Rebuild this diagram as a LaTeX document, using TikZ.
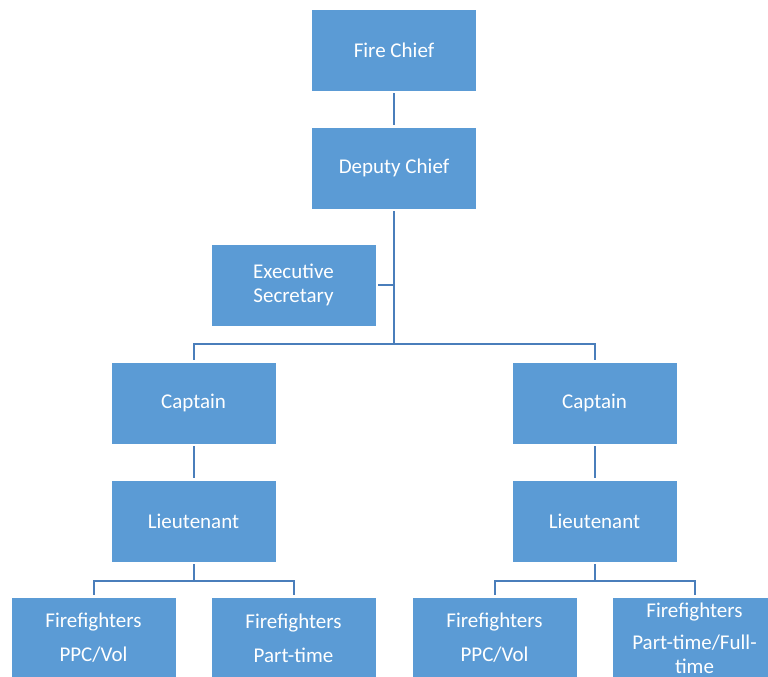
\documentclass[tikz,border=0pt]{standalone}
\usepackage{fontspec}
\setmainfont{Carlito}
\usepackage{tikz}
\usetikzlibrary{positioning}
\definecolor{boxblue}{HTML}{5B9BD5}
\definecolor{linkblue}{HTML}{4A7EBB}
\tikzset{
  unit box/.style={draw=boxblue,fill=boxblue,text=white,minimum width=122.25pt,minimum height=60pt,
    inner sep=1pt,align=center,font=\fontsize{15.75}{18}\selectfont},
  link/.style={draw=linkblue,line width=1.5pt,shorten >=2.25pt,shorten <=2.25pt}
}
\begin{document}
\begin{tikzpicture}[x=0.75pt,y=-0.75pt]
  \path[use as bounding box] (0,0) rectangle (768,677);
  \clip (0,0) rectangle (768,677);
  % chain of command
  \node[unit box] (chief) at (394,50) {Fire Chief};
  \node[unit box] (deputy) at (394,168) {Deputy Chief};
  \node[unit box] (exec) at (293.5,285) {Executive\\Secretary};
  \node[unit box] (capL) at (193.5,403) {Captain};
  \node[unit box] (capR) at (594.5,403) {Captain};
  \node[unit box] (ltL) at (193.5,521) {Lieutenant};
  \node[unit box] (ltR) at (594.5,521) {Lieutenant};
  % firefighter units
  \node[unit box] (ffA) at (93.5,638) {Firefighters\\[7.5pt]PPC/Vol};
  \node[unit box] (ffB) at (293.5,638) {Firefighters\\[7.5pt]Part-time};
  \node[unit box] (ffC) at (494.5,638) {Firefighters\\[7.5pt]PPC/Vol};
  \node[unit box] (ffD) at (694.5,638) {Firefighters\\[6pt]Part-time/Full-\\time};
  % buses
  \coordinate (busTop) at (394,344);
  \coordinate (busL) at (193.5,581);
  \coordinate (busR) at (594.5,581);
  % connectors
  \draw[link] (chief) -- (deputy);
  \draw[link,shorten >=0pt] (deputy) -- (busTop);
  \draw[link,shorten >=0pt] (exec.east) -- (exec.east -| busTop);
  \draw[link] (capL.north) |- (busTop) -| (capR.north);
  \draw[link] (capL) -- (ltL);
  \draw[link] (capR) -- (ltR);
  \draw[link,shorten >=0pt] (ltL) -- (busL);
  \draw[link] (ffA.north) |- (busL) -| (ffB.north);
  \draw[link,shorten >=0pt] (ltR) -- (busR);
  \draw[link] (ffC.north) |- (busR) -| (ffD.north);
\end{tikzpicture}
\end{document}
